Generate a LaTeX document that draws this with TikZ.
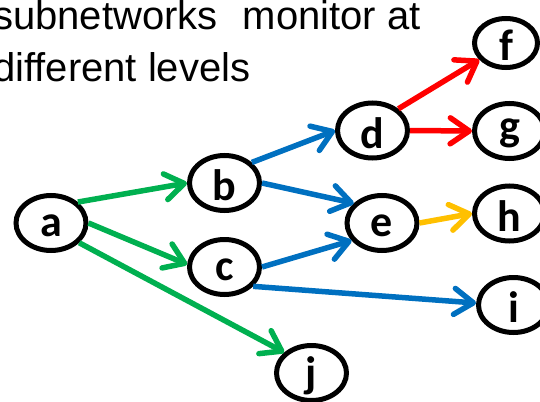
\documentclass[tikz,border=0pt]{standalone}
\usepackage{fontspec}
\setmainfont{Liberation Sans}
\newfontfamily\nodefont{Carlito}
\usetikzlibrary{arrows.meta,shapes.geometric}

\definecolor{egreen}{RGB}{0,176,80}
\definecolor{eblue}{RGB}{0,112,192}
\definecolor{ered}{RGB}{255,0,0}
\definecolor{eyellow}{RGB}{255,192,0}

% letter inside a vertex, lowered slightly without changing the box size
\newcommand{\vlabel}[1]{\raisebox{-2.5pt}[\height][\depth]{#1}}

\begin{document}
\begin{tikzpicture}[
  x=1pt, y=-1pt,
  vertex/.style={ellipse, draw=black, line width=5pt, fill=white,
    minimum width=70pt, minimum height=55pt, inner sep=0pt,
    font=\nodefont\bfseries\fontsize{44}{44}\selectfont},
  small vertex/.style={vertex, minimum width=63pt, minimum height=49pt},
  link/.style={line width=5.5pt,
    -{Straight Barb[length=19pt,width=26pt,round]}},
  caption/.style={anchor=base west, inner sep=0pt,
    font=\fontsize{40}{48}\selectfont}
]
\useasboundingbox (0,0) rectangle (540,401);

% heading
\node[caption] (t1) at (-7,30) {subnetworks\hspace{25pt}monitor at};
\node[caption] (t2) at (-7,82) {different levels};

% vertices
\node[vertex] (a) at (51,223)    {\vlabel{a}};
\node[vertex] (b) at (224.5,183) {\vlabel{b}};
\node[vertex] (c) at (224.5,267) {\vlabel{c}};
\node[vertex] (d) at (372.5,130.5) {\vlabel{d}};
\node[vertex] (e) at (382,223)   {\vlabel{e}};
\node[small vertex] (f) at (506,43) {\vlabel{f}};
\node[vertex] (g) at (509.5,131) {\vlabel{g}};
\node[vertex] (h) at (509.5,213.5) {\vlabel{h}};
\node[vertex] (i) at (513.5,305) {\vlabel{i}};
\node[vertex] (j) at (311.5,373) {\vlabel{j}};

% first level
\draw[link, egreen] (a.38)  -- (b.west);
\draw[link, egreen] (a.east) -- (c.176);
\draw[link, egreen] (a.-35) -- (j.143);

% second level
\draw[link, eblue] (b.37)   -- (d.west);
\draw[link, eblue] (b.east) -- (e.145);
\draw[link, eblue] (c.east) -- (e.210);
\draw[link, eblue] (c.-34)  -- (i.177);

% third level
\draw[link, ered] (d.40)   -- (f.212);
\draw[link, ered] (d.east) -- (g.west);
\draw[link, eyellow] (e.east) -- (h.west);
\end{tikzpicture}
\end{document}
